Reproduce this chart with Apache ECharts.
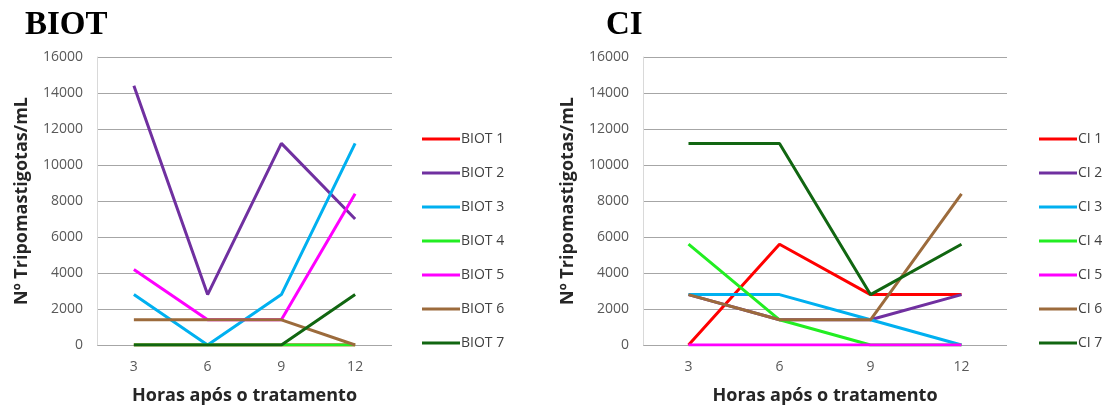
<!DOCTYPE html>
<html>
<head>
<meta charset="utf-8">
<script src="https://cdn.jsdelivr.net/npm/echarts@6/dist/echarts.min.js"></script>
<style>
  html, body { margin: 0; padding: 0; background: #fff; }
  #chart { width: 1104px; height: 410px; }
</style>
</head>
<body>
<div id="chart"></div>
<script>
// horas após o tratamento
const horas = ['3', '6', '9', '12']

// BIOT (Nº tripomastigotas/mL)
const biotNames = ['BIOT 1', 'BIOT 2', 'BIOT 3', 'BIOT 4', 'BIOT 5', 'BIOT 6', 'BIOT 7']
const biot1 = [0, 0, 0, 0]
const biot2 = [14400, 2800, 11200, 7000]
const biot3 = [2800, 0, 2800, 11200]
const biot4 = [0, 0, 0, 0]
const biot5 = [4200, 1400, 1400, 8400]
const biot6 = [1400, 1400, 1400, 0]
const biot7 = [0, 0, 0, 2800]

// CI
const ciNames = ['CI 1', 'CI 2', 'CI 3', 'CI 4', 'CI 5', 'CI 6', 'CI 7']
const ci1 = [0, 5600, 2800, 2800]
const ci2 = [2800, 1400, 1400, 2800]
const ci3 = [2800, 2800, 1400, 0]
const ci4 = [5600, 1400, 0, 0]
const ci5 = [0, 0, 0, 0]
const ci6 = [2800, 1400, 1400, 8400]
const ci7 = [11200, 11200, 2800, 5600]

const t_colors = ['#ff0000', '#7030a0', '#00b0f0', '#22ee22', '#ff00ff', '#9c6b3c', '#116611']
const font = '"Open Sans", "Liberation Sans", sans-serif'

const chart = echarts.init(document.getElementById('chart'))

function mkSeries(names, datas, idx) {
  let srs = []
  for (let i = 0; i < names.length; i++) {
    srs.push({
      name: names[i],
      type: 'line',
      xAxisIndex: idx,
      yAxisIndex: idx,
      data: datas[i],
      showSymbol: false,
      symbol: 'none',
      lineStyle: { color: t_colors[i], width: 3 },
      itemStyle: { color: t_colors[i] },
      animation: false
    })
  }
  return srs
}

function mkX(idx) {
  return {
    type: 'category',
    gridIndex: idx,
    data: horas,
    boundaryGap: true,
    name: 'Horas após o tratamento',
    nameLocation: 'middle',
    nameGap: 42,
    nameTextStyle: { fontFamily: font, fontSize: 18, fontWeight: 'bold', color: '#262626' },
    axisLine: { show: false },
    axisTick: { show: false },
    axisLabel: { fontFamily: font, fontSize: 14, color: '#595959', margin: 15 }
  }
}

function mkY(idx) {
  return {
    type: 'value',
    gridIndex: idx,
    min: 0,
    max: 16000,
    interval: 2000,
    name: 'Nº Tripomastigotas/mL',
    nameLocation: 'middle',
    nameRotate: 90,
    nameGap: 66,
    nameTextStyle: { fontFamily: font, fontSize: 18, fontWeight: 'bold', color: '#262626' },
    axisLine: { show: true, lineStyle: { color: '#d9d9d9', width: 1 } },
    axisTick: { show: false },
    axisLabel: { fontFamily: font, fontSize: 14, color: '#595959', margin: 14, formatter: v => String(v) },
    splitLine: { show: true, lineStyle: { color: '#a6a6a6', width: 1 } }
  }
}

function mkLegend(names, left) {
  return {
    data: names,
    orient: 'vertical',
    left: left,
    top: 127,
    icon: 'rect',
    itemWidth: 38,
    itemHeight: 3,
    itemGap: 20,
    textStyle: { fontFamily: font, fontSize: 14, color: '#404040', padding: [0, 0, 0, -4] }
  }
}

chart.setOption({
  animation: false,
  title: [
    { text: 'BIOT', left: 20, top: 4, textStyle: { fontFamily: '"Liberation Serif", serif', fontSize: 33, fontWeight: 'bold', color: '#000' } },
    { text: 'CI', left: 601, top: 4, textStyle: { fontFamily: '"Liberation Serif", serif', fontSize: 33, fontWeight: 'bold', color: '#000' } }
  ],
  grid: [
    { left: 97, top: 57, width: 295, height: 288 },
    { left: 643, top: 57, width: 364, height: 288 }
  ],
  xAxis: [mkX(0), mkX(1)],
  yAxis: [mkY(0), mkY(1)],
  legend: [mkLegend(biotNames, 417), mkLegend(ciNames, 1034)],
  series: mkSeries(biotNames, [biot1, biot2, biot3, biot4, biot5, biot6, biot7], 0)
    .concat(mkSeries(ciNames, [ci1, ci2, ci3, ci4, ci5, ci6, ci7], 1))
})
</script>
</body>
</html>
